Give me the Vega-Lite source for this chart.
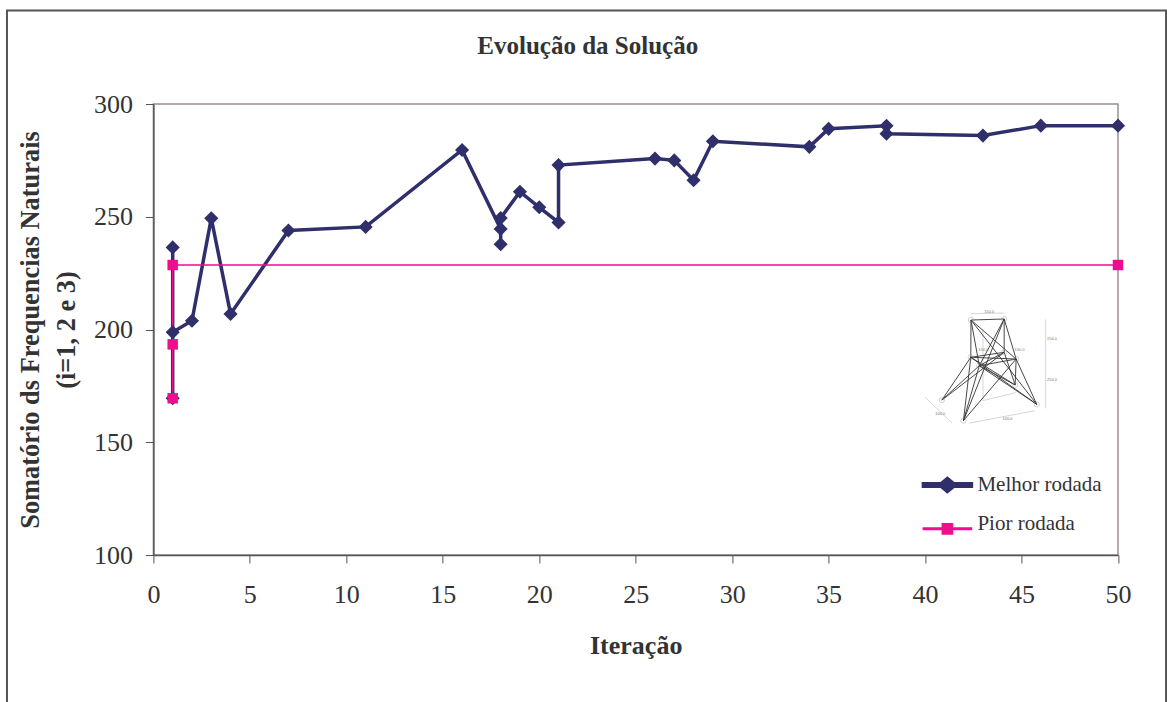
{
"$schema":"https://vega.github.io/schema/vega-lite/v6.json",
"width":964.6,"height":451,
"padding":{"left":153.4,"top":104,"right":49,"bottom":147},
"autosize":"none",
"background":"white",
"title":{"text":"Evolução da Solução","font":"Liberation Serif","fontSize":25,"fontWeight":"bold","color":"#333333","anchor":"middle","dx":-48,"offset":-65,"baseline":"middle"},
"config":{"view":{"stroke":"#9a8f8f","strokeWidth":1.5},"font":"Liberation Serif"},
"datasets":{
"serie":[
{"serie":"Melhor rodada","n":1,"iter":1,"valor":169.5},
{"serie":"Melhor rodada","n":2,"iter":1,"valor":236.4},
{"serie":"Melhor rodada","n":3,"iter":1,"valor":198.8},
{"serie":"Melhor rodada","n":4,"iter":2,"valor":203.9},
{"serie":"Melhor rodada","n":5,"iter":3,"valor":249.3},
{"serie":"Melhor rodada","n":6,"iter":4,"valor":206.9},
{"serie":"Melhor rodada","n":7,"iter":7,"valor":243.9},
{"serie":"Melhor rodada","n":8,"iter":11,"valor":245.5},
{"serie":"Melhor rodada","n":9,"iter":16,"valor":279.6},
{"serie":"Melhor rodada","n":10,"iter":18,"valor":244.6},
{"serie":"Melhor rodada","n":11,"iter":18,"valor":237.8},
{"serie":"Melhor rodada","n":12,"iter":18,"valor":249.4},
{"serie":"Melhor rodada","n":13,"iter":19,"valor":261.1},
{"serie":"Melhor rodada","n":14,"iter":20,"valor":254.2},
{"serie":"Melhor rodada","n":15,"iter":21,"valor":247.5},
{"serie":"Melhor rodada","n":16,"iter":21,"valor":272.9},
{"serie":"Melhor rodada","n":17,"iter":26,"valor":275.8},
{"serie":"Melhor rodada","n":18,"iter":27,"valor":275},
{"serie":"Melhor rodada","n":19,"iter":28,"valor":266.2},
{"serie":"Melhor rodada","n":20,"iter":29,"valor":283.5},
{"serie":"Melhor rodada","n":21,"iter":34,"valor":281},
{"serie":"Melhor rodada","n":22,"iter":35,"valor":289},
{"serie":"Melhor rodada","n":23,"iter":38,"valor":290.3},
{"serie":"Melhor rodada","n":24,"iter":38,"valor":286.8},
{"serie":"Melhor rodada","n":25,"iter":43,"valor":286},
{"serie":"Melhor rodada","n":26,"iter":46,"valor":290.4},
{"serie":"Melhor rodada","n":27,"iter":50,"valor":290.4},
{"serie":"Pior rodada","n":1,"iter":1,"valor":169.5},
{"serie":"Pior rodada","n":2,"iter":1,"valor":193.4},
{"serie":"Pior rodada","n":3,"iter":1,"valor":228.6},
{"serie":"Pior rodada","n":4,"iter":50,"valor":228.6}
],
"moldura":[
{"n":1,"iter":-7.59,"valor":33},
{"n":2,"iter":-7.59,"valor":341.5},
{"n":3,"iter":52.49,"valor":341.5},
{"n":4,"iter":52.49,"valor":33}
],
"nos":[
{"iter":42.38,"valor":204.2},{"iter":44.10,"valor":204.66},{"iter":42.37,"valor":187.67},{"iter":44.10,"valor":189.9},{"iter":44.72,"valor":186.9},{"iter":42.81,"valor":183.95},{"iter":40.87,"valor":168.7},{"iter":41.99,"valor":159.6},{"iter":45.79,"valor":166.8},{"iter":44.67,"valor":175.4}
],
"cotasTexto":[
{"t":"150.0","iter":43.33,"valor":207.6},
{"t":"254.0","iter":46.58,"valor":195.9},
{"t":"254.0","iter":46.58,"valor":177.6},
{"t":"150.0","iter":43.02,"valor":190.9},
{"t":"150.0","iter":44.89,"valor":190.9},
{"t":"100.0","iter":40.79,"valor":162.5},
{"t":"100.0","iter":44.27,"valor":160.3}
],
"torre":[
{"s":"AB","iter":42.38,"valor":204.2},{"s":"AB","iter":44.10,"valor":204.66},
{"s":"AI","iter":42.38,"valor":204.2},{"s":"AI","iter":45.79,"valor":166.8},
{"s":"AC","iter":42.38,"valor":204.2},{"s":"AC","iter":42.37,"valor":187.67},
{"s":"AE","iter":42.38,"valor":204.2},{"s":"AE","iter":44.72,"valor":186.9},
{"s":"AF","iter":42.38,"valor":204.2},{"s":"AF","iter":42.81,"valor":183.95},
{"s":"BH","iter":44.10,"valor":204.66},{"s":"BH","iter":41.99,"valor":159.6},
{"s":"BE","iter":44.10,"valor":204.66},{"s":"BE","iter":44.72,"valor":186.9},
{"s":"BD","iter":44.10,"valor":204.66},{"s":"BD","iter":44.10,"valor":189.9},
{"s":"BF","iter":44.10,"valor":204.66},{"s":"BF","iter":42.81,"valor":183.95},
{"s":"CE","iter":42.37,"valor":187.67},{"s":"CE","iter":44.72,"valor":186.9},
{"s":"CD","iter":42.37,"valor":187.67},{"s":"CD","iter":44.10,"valor":189.9},
{"s":"CG","iter":42.37,"valor":187.67},{"s":"CG","iter":40.87,"valor":168.7},
{"s":"CH","iter":42.37,"valor":187.67},{"s":"CH","iter":41.99,"valor":159.6},
{"s":"CJ","iter":42.37,"valor":187.67},{"s":"CJ","iter":44.67,"valor":175.4},
{"s":"CI","iter":42.37,"valor":187.67},{"s":"CI","iter":45.79,"valor":166.8},
{"s":"FE","iter":42.81,"valor":183.95},{"s":"FE","iter":44.72,"valor":186.9},
{"s":"FD","iter":42.81,"valor":183.95},{"s":"FD","iter":44.10,"valor":189.9},
{"s":"FG","iter":42.81,"valor":183.95},{"s":"FG","iter":40.87,"valor":168.7},
{"s":"FH","iter":42.81,"valor":183.95},{"s":"FH","iter":41.99,"valor":159.6},
{"s":"FJ","iter":42.81,"valor":183.95},{"s":"FJ","iter":44.67,"valor":175.4},
{"s":"FI","iter":42.81,"valor":183.95},{"s":"FI","iter":45.79,"valor":166.8},
{"s":"DG","iter":44.10,"valor":189.9},{"s":"DG","iter":40.87,"valor":168.7},
{"s":"DJ","iter":44.10,"valor":189.9},{"s":"DJ","iter":44.67,"valor":175.4},
{"s":"EH","iter":44.72,"valor":186.9},{"s":"EH","iter":41.99,"valor":159.6},
{"s":"EJ","iter":44.72,"valor":186.9},{"s":"EJ","iter":44.67,"valor":175.4},
{"s":"EI","iter":44.72,"valor":186.9},{"s":"EI","iter":45.79,"valor":166.8}
],
"cotas":[
{"s":"t","iter":42.38,"valor":207},{"s":"t","iter":44.10,"valor":207.3},
{"s":"v","iter":46.25,"valor":204.5},{"s":"v","iter":46.25,"valor":165},
{"s":"b","iter":42.3,"valor":158.5},{"s":"b","iter":45.7,"valor":164},
{"s":"l","iter":40.0,"valor":170},{"s":"l","iter":41.4,"valor":158.5},
{"s":"e","iter":43.0,"valor":200},{"s":"e","iter":43.0,"valor":168.5},{"s":"e","iter":44.7,"valor":172}
]
},
"layer":[
{"data":{"name":"moldura"},"mark":{"type":"line","color":"#555555","strokeWidth":2,"clip":false},
 "encoding":{"x":{"field":"iter","type":"quantitative","scale":{"domain":[0,50],"nice":false,"zero":false},
   "axis":{"title":"Iteração","titleFont":"Liberation Serif","titleFontSize":26,"titleFontWeight":"bold","titleColor":"#333333","titlePadding":25,
   "values":[0,5,10,15,20,25,30,35,40,45,50],"grid":false,"labelFont":"Liberation Serif","labelFontSize":26,"labelColor":"#333333","labelPadding":18,"tickSize":8,"tickColor":"#555555","domainColor":"#555555","domainWidth":1.5,"labelFlush":false}},
  "y":{"field":"valor","type":"quantitative","scale":{"domain":[100,300],"nice":false,"zero":false},
   "axis":{"title":["Somatório ds Frequencias Naturais","(i=1, 2 e 3)"],"titleFont":"Liberation Serif","titleFontSize":26.4,"titleFontWeight":"bold","titleColor":"#333333","titlePadding":13,"titleLineHeight":36,
   "values":[100,150,200,250,300],"grid":false,"labelFont":"Liberation Serif","labelFontSize":26,"labelColor":"#333333","labelPadding":13,"tickSize":8,"tickColor":"#555555","domainColor":"#555555","domainWidth":1.5}},
  "order":{"field":"n"}}},
{"data":{"name":"cotas"},"mark":{"type":"line","color":"#bbbbbb","strokeWidth":0.6},
 "encoding":{"x":{"field":"iter","type":"quantitative"},"y":{"field":"valor","type":"quantitative"},"detail":{"field":"s"}}},
{"data":{"name":"torre"},"mark":{"type":"line","color":"#333333","strokeWidth":0.9},
 "encoding":{"x":{"field":"iter","type":"quantitative"},"y":{"field":"valor","type":"quantitative"},"detail":{"field":"s"}}},
{"data":{"name":"nos"},"mark":{"type":"point","color":"#999999","strokeWidth":0.6,"size":28,"filled":false},
 "encoding":{"x":{"field":"iter","type":"quantitative"},"y":{"field":"valor","type":"quantitative"}}},
{"data":{"name":"cotasTexto"},"mark":{"type":"text","font":"Liberation Sans","fontSize":4,"color":"#777777"},
 "encoding":{"x":{"field":"iter","type":"quantitative"},"y":{"field":"valor","type":"quantitative"},"text":{"field":"t"}}},
{"data":{"name":"serie"},"mark":{"type":"line"},
 "encoding":{"x":{"field":"iter","type":"quantitative"},"y":{"field":"valor","type":"quantitative"},"order":{"field":"n"},
  "color":{"field":"serie","type":"nominal","scale":{"domain":["Melhor rodada","Pior rodada"],"range":["#2f2f6c","#ef0d8e"]}},
  "strokeWidth":{"field":"serie","type":"nominal","scale":{"domain":["Melhor rodada","Pior rodada"],"range":[3.5,1.6]},"legend":null}}},
{"data":{"name":"serie"},"transform":[{"filter":"datum.serie==='Melhor rodada'"}],"mark":{"type":"point","filled":true,"opacity":1,"shape":"diamond","size":200},
 "encoding":{"x":{"field":"iter","type":"quantitative"},"y":{"field":"valor","type":"quantitative"},
  "color":{"field":"serie","type":"nominal"}}},
{"data":{"name":"serie"},"transform":[{"filter":"datum.serie==='Pior rodada'"}],"mark":{"type":"point","filled":true,"opacity":1,"shape":"square","size":110},
 "encoding":{"x":{"field":"iter","type":"quantitative"},"y":{"field":"valor","type":"quantitative"},
  "color":{"field":"serie","type":"nominal"}}},
{"data":{"name":"serie"},"transform":[{"filter":"datum.iter<0"}],"mark":{"type":"point","filled":true,"opacity":1,"size":2304},
 "encoding":{"x":{"field":"iter","type":"quantitative"},"y":{"field":"valor","type":"quantitative"},
  "color":{"field":"serie","type":"nominal",
   "legend":{"title":null,"orient":"none","legendX":768,"legendY":355,"padding":0,"labelFont":"Liberation Serif","labelFontSize":21,"labelColor":"#333333","labelOffset":4,"rowPadding":-17,"symbolSize":2304,"symbolStrokeWidth":0,"symbolOpacity":1}},
  "shape":{"field":"serie","type":"nominal","scale":{"domain":["Melhor rodada","Pior rodada"],"range":["M-1,-0.05H-0.27L0,-0.27L0.27,-0.05H1V0.05H0.27L0,0.27L-0.27,0.05H-1Z","M-1,0.17H-0.21V-0.01H0.21V0.17H1V0.23H0.21V0.41H-0.21V0.23H-1Z"]}}}}
]
}
